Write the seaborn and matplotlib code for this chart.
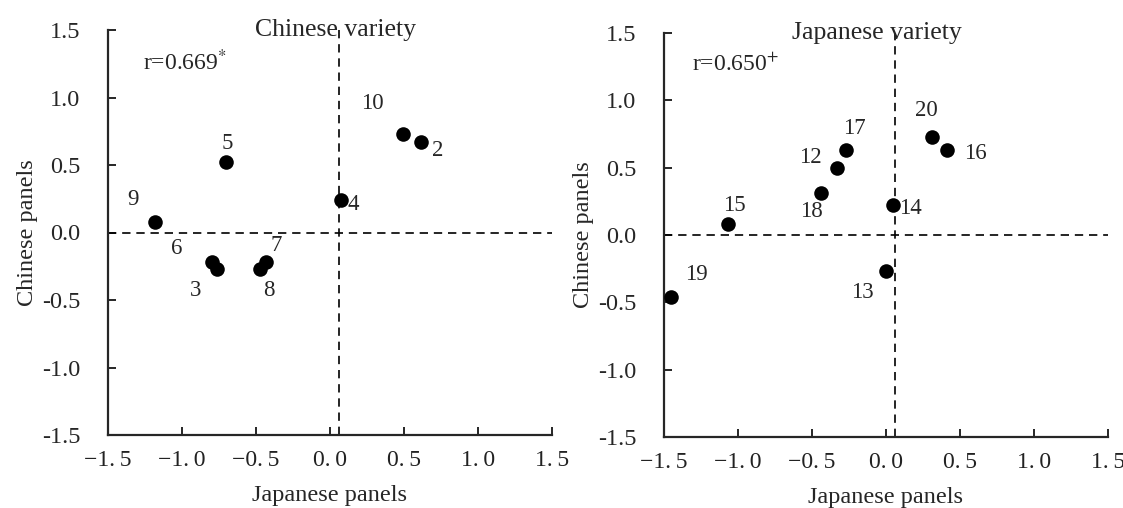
import matplotlib
matplotlib.use("Agg")
import matplotlib.pyplot as plt
import seaborn as sns
import pandas as pd

# ---- data ----
cn_ids = ["2", "3", "4", "5", "6", "7", "8", "9", "10"]
cn_x = [0.615, -0.764, 0.074, -0.703, -0.797, -0.432, -0.473, -1.182, 0.493]
cn_y = [0.674, -0.267, 0.244, 0.519, -0.222, -0.222, -0.267, 0.081, 0.733]

jp_ids = ["12", "13", "14", "15", "16", "17", "18", "19", "20"]
jp_x = [-0.33, 0.00, 0.05, -1.07, 0.41, -0.27, -0.44, -1.45, 0.31]
jp_y = [0.50, -0.27, 0.22, 0.08, 0.63, 0.63, 0.31, -0.46, 0.73]

titles = ["Chinese variety", "Japanese variety"]
r_texts = ["r=0.669$^{*}$", "r=0.650$^{+}$"]
xticks = [-1.5, -1.0, -0.5, 0.0, 0.5, 1.0, 1.5]
xtick_labels = ["\u22121.\u20095", "\u22121.\u20090", "\u22120.\u20095", "0.\u20090",
                "0.\u20095", "1.\u20090", "1.\u20095"]
yticks = [-1.5, -1.0, -0.5, 0.0, 0.5, 1.0, 1.5]
ytick_labels = ["-1.5", "-1.0", "-0.5", "0.0", "0.5", "1.0", "1.5"]
ref_x = 0.06  # vertical reference line
ref_y = 0.0

# label offsets (pixels)
cn_off = {"2": (17, -9), "3": (-21, -22), "4": (12, -5), "5": (1, 19), "6": (-35, 14),
          "7": (10, 17), "8": (9, -22), "9": (-22, 22), "10": (-31, 30)}
jp_off = {"12": (-27, 10), "13": (-24, -21), "14": (17, -3), "15": (7, 19), "16": (29, -3),
          "17": (8, 22), "18": (-9, -18), "19": (25, 22), "20": (-6, 26)}

sns.set_style("ticks")
plt.rcParams["font.family"] = ["Liberation Serif", "DejaVu Serif"]
plt.rcParams["mathtext.fontset"] = "stix"

fig = plt.figure(figsize=(11.23, 5.08), dpi=100)
ax1 = fig.add_axes([108 / 1123, 1 - 435 / 508, 444 / 1123, 405 / 508])
ax2 = fig.add_axes([664 / 1123, 1 - 437 / 508, 444 / 1123, 404 / 508])

panels = [
    (ax1, pd.DataFrame({"id": cn_ids, "x": cn_x, "y": cn_y}), cn_off, 0.513, 1.0, 0.079),
    (ax2, pd.DataFrame({"id": jp_ids, "x": jp_x, "y": jp_y}), jp_off, 0.48, 1.0, 0.063),
]

for i, (ax, df, offs, tx, ty, rx) in enumerate(panels):
    ax.axhline(ref_y, color="black", lw=1.2, ls=(0, (5, 3.5)), zorder=1)
    ax.axvline(ref_x, color="black", lw=1.2, ls=(0, (5, 3.5)), zorder=1)
    sns.scatterplot(data=df, x="x", y="y", ax=ax, color="black", s=110,
                    edgecolor="black", linewidth=0, zorder=3, legend=False)
    for _, row in df.iterrows():
        dx, dy = offs[row["id"]]
        ax.annotate(row["id"], (row["x"], row["y"]), xytext=(dx, dy),
                    textcoords="offset pixels", ha="center", va="center", fontsize=16.5)
    ax.set_xlim(-1.5, 1.5)
    ax.set_ylim(-1.5, 1.5)
    ax.set_xticks(xticks)
    ax.set_xticklabels(xtick_labels, fontsize=17, color="#222222")
    ax.set_yticks(yticks)
    ax.set_yticklabels(ytick_labels, fontsize=17.5)
    ax.tick_params(direction="in", length=6, width=1.4)
    ax.tick_params(axis="y", pad=20)
    ax.tick_params(axis="x", pad=11)
    for s in ["top", "right"]:
        ax.spines[s].set_visible(False)
    for s in ["left", "bottom"]:
        ax.spines[s].set_linewidth(1.6)
    ax.set_xlabel("Japanese panels", fontsize=17.5, labelpad=10)
    ax.set_ylabel("Chinese panels", fontsize=17.5, labelpad=3)
    ax.text(tx, ty, titles[i], transform=ax.transAxes, ha="center", va="center", fontsize=18.5)
    ax.text(rx, 0.921, r_texts[i], transform=ax.transAxes, ha="left", va="center", fontsize=17)

fig.savefig("out.png", dpi=100)
